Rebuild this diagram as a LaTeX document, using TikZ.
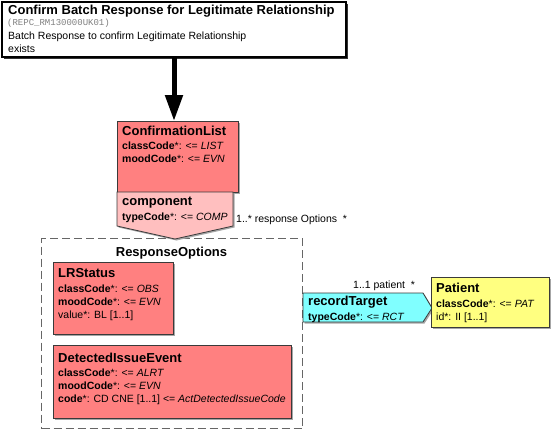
\documentclass[tikz,border=0pt]{standalone}
\usepackage{fontspec}
\setmainfont{Liberation Sans}
\setmonofont{Liberation Mono}
\usetikzlibrary{arrows.meta,shadows}
\definecolor{actred}{HTML}{FF8080}
\definecolor{actpink}{HTML}{FFBFBF}
\definecolor{partcyan}{HTML}{80FFFF}
\definecolor{entyellow}{HTML}{FFFF80}
\definecolor{edgecol}{HTML}{3A3A3A}
\definecolor{dashcol}{HTML}{666666}
\tikzset{
  shad/.style={drop shadow={shadow xshift=1.5pt, shadow yshift=-1.5pt, fill=gray!70, opacity=1}},
  box/.style={draw=edgecol, line width=0.8pt, anchor=north west, inner sep=0pt, outer sep=0pt, shad},
  shapebox/.style={draw=edgecol, line width=0.8pt, shad},
  nm/.style={anchor=base west, inner sep=0pt, font=\fontsize{13}{15}\selectfont\bfseries},
  attrtxt/.style={anchor=base west, inner sep=0pt, font=\fontsize{10.5}{12}\selectfont},
  lbl/.style={anchor=base west, inner sep=0pt, font=\fontsize{10.5}{12}\selectfont},
  grp/.style={draw=dashcol, line width=1pt, dash pattern=on 8pt off 4pt, anchor=north west, inner sep=0pt},
  bigarrow/.style={line width=5pt, -{Triangle[width=17pt,length=26pt]}}
}
\newcommand{\attr}[2]{\textbf{#1}*: <= \textit{#2}}
\begin{document}
\begin{tikzpicture}[x=1pt,y=-1pt]
\useasboundingbox (0,0) rectangle (552,431);
% title box
\node[box, draw=black, line width=1.2pt, fill=white, minimum width=344pt, minimum height=55pt,
  drop shadow={shadow xshift=2pt, shadow yshift=-2pt, fill=black!80, opacity=1}] (title) at (2,2) {};
\node[nm] (ttl) at (8,15) {Confirm Batch Response for Legitimate Relationship};
\node[anchor=base west, inner sep=0pt, font=\fontsize{9}{10}\selectfont\ttfamily, text=gray] (tid) at (7,25) {(REPC\_RM130000UK01)};
\node[attrtxt] (td1) at (8,39) {Batch Response to confirm Legitimate Relationship};
\node[attrtxt] (td2) at (8,52) {exists};

% group box
\node[grp, minimum width=261pt, minimum height=190pt] (ro) at (41,238) {};
\node[nm, anchor=base] (rot) at (171.5,256) {ResponseOptions};

% ConfirmationList
\node[box, fill=actred, minimum width=121pt, minimum height=71pt] (cl) at (117,121) {};
\node[nm] (clt) at (122,135) {ConfirmationList};
\node[attrtxt] (cl1) at (122,149) {\attr{classCode}{LIST}};
\node[attrtxt] (cl2) at (122,162) {\attr{moodCode}{EVN}};

% arrow
\draw[bigarrow] (title.south) -- (title.south |- cl.north);

% component
\draw[shapebox, fill=actpink] (117,192) -- (233,192) -- (233,226) -- (175,239) -- (117,226) -- cycle;
\coordinate (comp) at (175,239);
\node[nm] (compt) at (122,205) {component};
\node[attrtxt] (comp1) at (122,220) {\attr{typeCode}{COMP}};
\node[lbl] (compl) at (236,222) {1..* response Options\ \ *};

% LRStatus
\node[box, fill=actred, minimum width=120pt, minimum height=72pt] (lr) at (53,262) {};
\node[nm] (lrt) at (58,277) {LRStatus};
\node[attrtxt] (lr1) at (58,292) {\attr{classCode}{OBS}};
\node[attrtxt] (lr2) at (58,305) {\attr{moodCode}{EVN}};
\node[attrtxt] (lr3) at (58,318) {value*: BL [1..1]};

% DetectedIssueEvent
\node[box, fill=actred, minimum width=238pt, minimum height=73pt] (die) at (53,345) {};
\node[nm] (diet) at (58,362) {DetectedIssueEvent};
\node[attrtxt] (die1) at (58,376) {\attr{classCode}{ALRT}};
\node[attrtxt] (die2) at (58,389) {\attr{moodCode}{EVN}};
\node[attrtxt] (die3) at (58,402) {\textbf{code}*: CD CNE [1..1] <= \textit{ActDetectedIssueCode}};

% recordTarget
\draw[shapebox, fill=partcyan] (303,293) -- (423,293) -- (432,308) -- (423,322) -- (303,322) -- cycle;
\coordinate (rt) at (432,308);
\node[nm] (rtt) at (308,305) {recordTarget};
\node[attrtxt] (rt1) at (308,320) {\attr{typeCode}{RCT}};
\node[lbl] (rtl) at (353,288) {1..1 patient\ \ *};

% Patient
\node[box, fill=entyellow, minimum width=118pt, minimum height=50pt] (pat) at (431,277) {};
\node[nm] (patt) at (436,292) {Patient};
\node[attrtxt] (pat1) at (436,307) {\attr{classCode}{PAT}};
\node[attrtxt] (pat2) at (436,320) {id*: II [1..1]};
\end{tikzpicture}
\end{document}
